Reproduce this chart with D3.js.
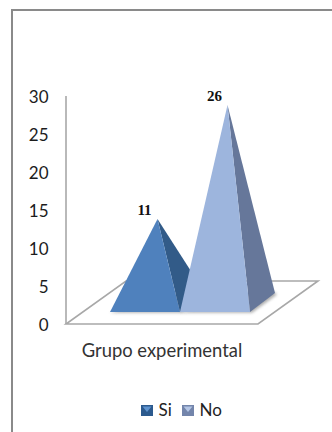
<!DOCTYPE html>
<html>
<head>
<meta charset="utf-8">
<style>
html, body { margin: 0; padding: 0; background: #fff; }
svg { display: block; }
</style>
<script src="https://cdn.jsdelivr.net/npm/d3@7"></script>
</head>
<body>
<svg id="chart" width="332" height="432"></svg>
<script>
const categories = ["Grupo experimental"];
const seriesNames = ["Si", "No"];
const seriesValues = [11, 26];
const yTicks = [0, 5, 10, 15, 20, 25, 30];
const faceColors = ["#4f81bd", "#9db5dd"];
const sideColors = ["#325b88", "#66779a"];
const legendLight = ["#5f94d0", "#b4c6e6"];
const legendDark = ["#2c5a8e", "#7385ab"];

const uiFont = "Lato, 'Open Sans', sans-serif";
const svg = d3.select("#chart");
const defs = svg.append("defs");

defs.append("filter").attr("id", "soft")
  .attr("x", "-30%").attr("y", "-30%").attr("width", "160%").attr("height", "160%")
  .append("feGaussianBlur").attr("stdDeviation", 1.6);

// Outer frame: only the top and left edges fall inside the window
svg.append("path")
  .attr("d", "M12,432V10H332")
  .attr("fill", "none").attr("stroke", "#8a8a8a").attr("stroke-width", 2);

const y = d3.scaleLinear().domain([0, 30]).range([324, 96]);
const x = d3.scaleBand().domain(seriesNames).range([110, 250]);

// Oblique projection of the floor and of each pyramid's square base
const floorDepth = { dx: 60, dy: -43 };
const baseDepth = { dx: 25, dy: -19 };
const floorFrontRight = 258;
const baseFrontY = 312;

const grey = "#a8a8a8";
const floor = [
  [66, y(0)],
  [floorFrontRight, y(0)],
  [floorFrontRight + floorDepth.dx, y(0) + floorDepth.dy],
  [66 + floorDepth.dx, y(0) + floorDepth.dy]
];
svg.append("polygon")
  .attr("points", floor.join(" "))
  .attr("fill", "none").attr("stroke", grey).attr("stroke-width", 1.6);
svg.append("line")
  .attr("x1", 66).attr("x2", 66).attr("y1", y(30)).attr("y2", y(0))
  .attr("stroke", grey).attr("stroke-width", 1.6);

// Value axis
const axis = d3.axisLeft(y).tickValues(yTicks).tickSize(0).tickPadding(0);
const axisG = svg.append("g").attr("transform", "translate(48.5,1.5)").call(axis);
axisG.select(".domain").remove();
axisG.selectAll("text")
  .attr("font-family", uiFont).attr("font-size", 17).attr("fill", "#1c1c1c");

// Pyramids, left to right so the taller one overlaps its neighbour
const marks = svg.append("g");
seriesNames.forEach((name, i) => {
  const value = seriesValues[i];
  const x0 = x(name);
  const x1 = x0 + x.bandwidth();
  const frontLeft = [x0, baseFrontY];
  const frontRight = [x1, baseFrontY];
  const backRight = [x1 + baseDepth.dx, baseFrontY + baseDepth.dy];
  const apex = [
    (x0 + x1) / 2 + baseDepth.dx / 2,
    y(value) + floorDepth.dy / 2
  ];

  // Soft contact shadow behind the base
  marks.append("polygon")
    .attr("points", [
      [frontLeft[0], baseFrontY + 0.8],
      [frontRight[0] + 2, baseFrontY + 0.8],
      [backRight[0] + 2, backRight[1] + 1.5],
      [backRight[0] - 8, backRight[1] - 6]
    ].join(" "))
    .attr("fill", "#777").attr("opacity", 0.6).attr("filter", "url(#soft)");

  marks.append("polygon")
    .attr("points", [apex, frontRight, backRight].join(" "))
    .attr("fill", sideColors[i]);
  marks.append("polygon")
    .attr("points", [apex, frontLeft, frontRight].join(" "))
    .attr("fill", faceColors[i]);

  // Value label sits up and to the left of the tip
  marks.append("text")
    .attr("x", apex[0] - 13)
    .attr("y", apex[1] - 4)
    .attr("text-anchor", "middle")
    .attr("font-family", "'Liberation Serif', serif")
    .attr("font-weight", "bold")
    .attr("font-size", 15)
    .attr("fill", "#111")
    .text(value);
});

// Category label
svg.append("text")
  .attr("x", 162).attr("y", 357)
  .attr("text-anchor", "middle")
  .attr("font-family", uiFont).attr("font-size", 18.4).attr("fill", "#333")
  .text(categories[0]);

// Legend
const legendX = d3.scaleOrdinal().domain(seriesNames).range([141, 182]);
const legend = svg.append("g");
seriesNames.forEach((name, i) => {
  const sx = legendX(name);
  legend.append("rect")
    .attr("x", sx).attr("y", 405).attr("width", 12).attr("height", 11)
    .attr("fill", legendDark[i]);
  legend.append("polygon")
    .attr("points", [[sx + 1.5, 406.5], [sx + 10.5, 406.5], [sx + 6, 412]].join(" "))
    .attr("fill", legendLight[i]);
  legend.append("text")
    .attr("x", sx + 17.5).attr("y", 416)
    .attr("font-family", uiFont).attr("font-size", 17).attr("fill", "#222")
    .text(name);
});
</script>
</body>
</html>
